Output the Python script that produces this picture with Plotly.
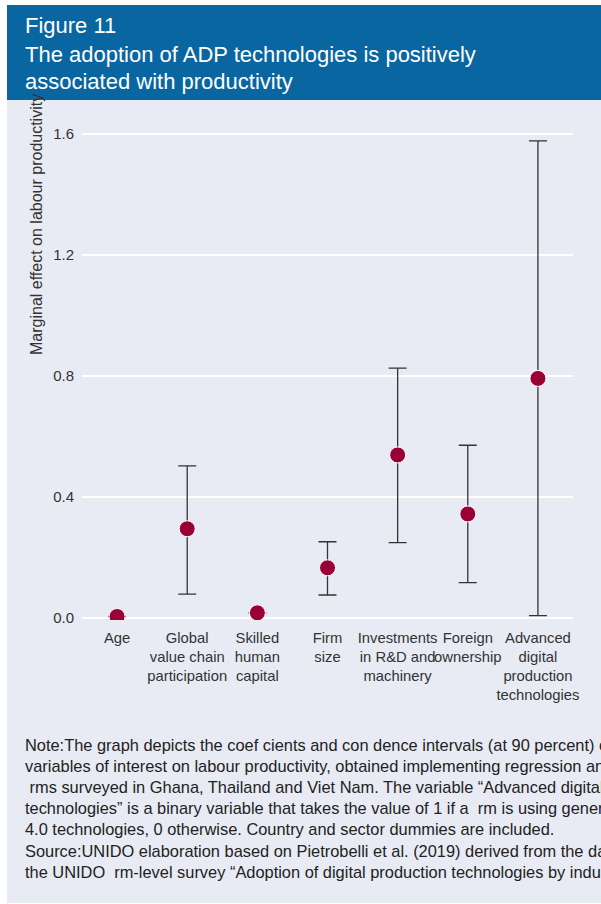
import plotly.graph_objects as go

W, H = 601, 904

categories = [
    "Age",
    "Global<br>value chain<br>participation",
    "Skilled<br>human<br>capital",
    "Firm<br>size",
    "Investments<br>in R&D and<br>machinery",
    "Foreign<br>ownership",
    "Advanced<br>digital<br>production<br>technologies",
]
coef = [0.005, 0.295, 0.017, 0.166, 0.539, 0.344, 0.792]
ci_upper = [None, 0.503, None, 0.252, 0.826, 0.571, 1.577]
ci_lower = [None, 0.079, None, 0.076, 0.249, 0.117, 0.008]
y_ticks = [0.0, 0.4, 0.8, 1.2, 1.6]
y_tick_labels = ["0.0", "0.4", "0.8", "1.2", "1.6"]

title_lines = [
    "Figure 11",
    "The adoption of ADP technologies is positively",
    "associated with productivity",
]
y_title = "Marginal effect on labour productivity"
note_lines = [
    "Note:The graph depicts the coef cients and con dence intervals (at 90 percent) of the",
    "variables of interest on labour productivity, obtained implementing regression analysis on",
    " rms surveyed in Ghana, Thailand and Viet Nam. The variable \u201cAdvanced digital production",
    "technologies\u201d is a binary variable that takes the value of 1 if a  rm is using generation",
    "4.0 technologies, 0 otherwise. Country and sector dummies are included.",
    "Source:UNIDO elaboration based on Pietrobelli et al. (2019) derived from the data of",
    "the UNIDO  rm-level survey \u201cAdoption of digital production technologies by industry\u201d.",
]

err_plus = [None if u is None else u - c for u, c in zip(ci_upper, coef)]
err_minus = [None if l is None else c - l for l, c in zip(ci_lower, coef)]

FONT = "Liberation Sans, Arial, sans-serif"
BG = "#e8ebf4"
BLUE = "#0a66a0"
RED = "#9a0036"

fig = go.Figure()
fig.add_trace(go.Scatter(
    x=categories, y=coef, mode="markers",
    marker=dict(color=RED, size=16, line=dict(color="white", width=1)),
    error_y=dict(type="data", symmetric=False, array=err_plus, arrayminus=err_minus,
                 color="#333333", thickness=1.3, width=9),
    showlegend=False, hoverinfo="skip",
))

def px(x):
    return x / W

def py(y):
    return 1 - y / H

shapes = [
    dict(type="rect", xref="paper", yref="paper", x0=px(7), x1=px(601), y0=py(903), y1=py(100),
         fillcolor=BG, line=dict(width=0), layer="below"),
    dict(type="rect", xref="paper", yref="paper", x0=px(7), x1=px(601), y0=py(100), y1=py(5),
         fillcolor=BLUE, line=dict(width=0), layer="below"),
]

annotations = []
for txt, yc in zip(title_lines, [26, 55, 82]):
    annotations.append(dict(text=txt, xref="paper", yref="paper", x=px(23), y=py(yc),
                            xanchor="left", yanchor="middle", showarrow=False,
                            font=dict(family=FONT, size=22, color="white")))
annotations.append(dict(text=y_title, xref="paper", yref="paper", x=px(37), y=py(225),
                        xanchor="center", yanchor="middle", showarrow=False, textangle=-90,
                        font=dict(family=FONT, size=16, color="#333333")))
for i, txt in enumerate(note_lines):
    annotations.append(dict(text=txt, xref="paper", yref="paper", x=px(23), y=py(745 + i * 21.1),
                            xanchor="left", yanchor="middle", showarrow=False, align="left",
                            font=dict(family=FONT, size=16.4, color="#222222")))

y0px, y1px = 620, 101
fig.update_layout(
    width=W, height=H,
    margin=dict(l=0, r=0, t=0, b=0, pad=0),
    paper_bgcolor="white", plot_bgcolor=BG,
    font=dict(family=FONT, size=15, color="#333333"),
    shapes=shapes, annotations=annotations,
    xaxis=dict(domain=[82 / W, 573 / W], range=[-0.5, 6.5], type="category",
               showgrid=False, zeroline=False, showline=False, tickangle=0,
               ticks="outside", ticklen=4, tickcolor="rgba(0,0,0,0)",
               tickfont=dict(family=FONT, size=14.8, color="#333333"), automargin=False),
    yaxis=dict(domain=[1 - y0px / H, 1 - y1px / H], range=[-0.0066, 1.709],
               tickvals=y_ticks, ticktext=y_tick_labels,
               showgrid=True, gridcolor="white", gridwidth=2, zeroline=False, showline=False,
               ticks="outside", ticklen=4, tickcolor="rgba(0,0,0,0)",
               tickfont=dict(family=FONT, size=15, color="#333333"), automargin=False),
)

fig.write_html("out.html", config={"displayModeBar": False},
               post_script="document.body.style.margin='0';")
